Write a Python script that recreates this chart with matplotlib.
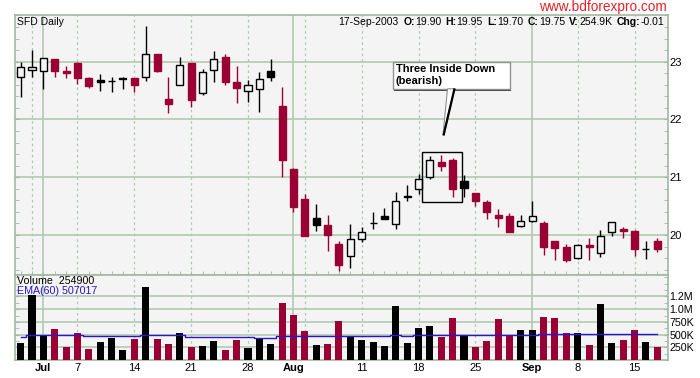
import numpy as np
import pandas as pd
import matplotlib
matplotlib.use('Agg')
import matplotlib.pyplot as plt
from matplotlib.patches import Rectangle, Polygon
from matplotlib.ticker import FixedLocator, MultipleLocator

plt.rcParams['font.family'] = ['Liberation Sans', 'DejaVu Sans']

# trading days (market closed Jul 4 and Sep 1)
dates = pd.bdate_range('2003-06-27', '2003-09-17')
dates = dates[~dates.isin(pd.to_datetime(['2003-07-04', '2003-09-01']))]

opens = [22.73, 22.86, 22.83, 23.05, 22.83, 22.98, 22.72, 22.68, 22.66, 22.72,
         22.72, 22.73, 23.13, 22.35, 22.59, 22.98, 22.45, 22.85, 23.08, 22.65,
         22.50, 22.52, 22.84, 22.23, 21.14, 20.62, 20.29, 20.17, 19.84, 19.64,
         19.93, 20.21, 20.33, 20.19, 20.65, 20.79, 21.00, 21.26, 21.30, 20.93,
         20.73, 20.57, 20.35, 20.33, 20.15, 20.25, 20.21, 19.90, 19.79, 19.61,
         19.83, 19.68, 20.05, 20.10, 20.07, 19.76, 19.90]
highs = [22.99, 23.20, 23.06, 23.05, 22.93, 22.99, 22.73, 22.79, 22.74, 22.73,
         22.72, 23.61, 23.13, 22.73, 23.08, 22.98, 22.87, 23.18, 23.13, 22.93,
         22.68, 22.82, 23.05, 22.56, 21.16, 20.71, 20.54, 20.35, 19.90, 20.19,
         20.13, 20.39, 20.46, 20.74, 20.86, 21.05, 21.36, 21.38, 21.33, 21.04,
         20.73, 20.60, 20.45, 20.38, 20.35, 20.59, 20.24, 19.90, 19.84, 19.84,
         19.95, 20.09, 20.22, 20.13, 20.09, 19.90, 19.95]
lows = [22.38, 22.74, 22.53, 22.73, 22.72, 22.61, 22.54, 22.50, 22.48, 22.53,
        22.48, 22.67, 22.82, 22.12, 22.59, 22.22, 22.42, 22.64, 22.59, 22.29,
        22.31, 22.13, 22.67, 21.00, 20.40, 19.98, 20.07, 19.73, 19.38, 19.43,
        19.88, 20.10, 20.28, 20.11, 20.58, 20.71, 20.97, 21.10, 20.66, 20.66,
        20.51, 20.28, 20.13, 20.06, 20.13, 20.23, 19.65, 19.57, 19.54, 19.58,
        19.56, 19.62, 19.99, 19.95, 19.64, 19.59, 19.70]
closes = [22.90, 22.91, 23.06, 22.84, 22.80, 22.71, 22.58, 22.65, 22.66, 22.70,
          22.60, 23.13, 22.84, 22.27, 22.94, 22.34, 22.82, 23.05, 22.64, 22.55,
          22.59, 22.70, 22.74, 21.29, 20.49, 19.98, 20.18, 20.00, 19.48, 19.93,
          20.06, 20.20, 20.28, 20.58, 20.68, 20.97, 21.29, 21.20, 20.80, 20.82,
          20.58, 20.40, 20.30, 20.06, 20.24, 20.33, 19.79, 19.78, 19.56, 19.82,
          19.80, 19.99, 20.22, 20.07, 19.75, 19.76, 19.75]
volume = [341000, 1280000, 490000, 610000, 256000, 540000, 216000, 360000, 433000, 197000,
          413000, 1437000, 413000, 315000, 531000, 256000, 276000, 374000, 197000, 394000,
          236000, 413000, 315000, 1120000, 886000, 571000, 295000, 315000, 768000, 460000,
          394000, 360000, 276000, 1070000, 341000, 630000, 670000, 453000, 827000, 486000,
          256000, 374000, 807000, 486000, 590000, 590000, 846000, 827000, 540000, 540000,
          295000, 1108000, 341000, 394000, 590000, 360000, 254900]
ema60 = [453000, 486000, 486000, 488000, 484000, 485000, 470000, 468000, 467000, 466000,
         466000, 488000, 486000, 484000, 485000, 462000, 460000, 459000, 458000, 457000,
         456000, 440000, 438000, 465000, 468000, 470000, 467000, 466000, 466000, 466000,
         465000, 464000, 463000, 484000, 478000, 485000, 487000, 487000, 489000, 489000,
         486000, 485000, 490000, 490000, 492000, 500000, 502000, 518000, 519000, 520000,
         510000, 515000, 513000, 511000, 512000, 509000, 507017]

tick_dates = ['2003-07-01', '2003-07-07', '2003-07-14', '2003-07-21', '2003-07-28',
              '2003-08-01', '2003-08-11', '2003-08-18', '2003-08-25',
              '2003-09-02', '2003-09-08', '2003-09-15']
tick_labels = ['Jul', '7', '14', '21', '28', 'Aug', '11', '18', '25', 'Sep', '8', '15']
month_lines = ['2003-07-01', '2003-08-01', '2003-09-02']
week_lines = ['2003-06-30', '2003-07-07', '2003-07-14', '2003-07-21', '2003-07-28',
              '2003-08-04', '2003-08-11', '2003-08-18', '2003-08-25',
              '2003-09-08', '2003-09-15']
pattern_days = ['2003-08-19', '2003-08-20', '2003-08-21']

vol_ticks = [250000, 500000, 750000, 1000000, 1250000]
vol_tick_labels = ['250K', '500K', '750K', '1.0M', '1.2M']

MAROON = '#990033'
BG = '#f4f4f4'
GRID = '#b2c8b2'
FRAME = '#a2b8a2'
W, H = 700, 378

def pos(d):
    return dates.get_loc(pd.Timestamp(d))

n = len(dates)
x = np.arange(n)
colors = ['black' if i == 0 or closes[i] >= closes[i - 1] else MAROON for i in range(n)]

fig = plt.figure(figsize=(W / 100, H / 100), dpi=100)
left, right, top, mid, bot = 15.5, 668.3, 15, 274.5, 360
ax = fig.add_axes([left / W, 1 - mid / H, (right - left) / W, (mid - top) / H])
ax2 = fig.add_axes([left / W, 1 - bot / H, (right - left) / W, (bot - mid) / H])

for a in (ax, ax2):
    a.set_facecolor(BG)
    a.set_xlim(-0.45, 56.97)
    for s in a.spines.values():
        s.set_color(FRAME)
        s.set_linewidth(1.2)
    for d in month_lines:
        a.axvline(pos(d), color=GRID, lw=1.2, zorder=1)
    for d in week_lines:
        a.axvline(pos(d), color=GRID, lw=0.9, ls=(0, (2, 2.5)), zorder=1)

# price panel
ax.set_ylim(19.316, 23.808)
for lvl in [20, 21, 22, 23]:
    ax.axhline(lvl, color=GRID, lw=1.2, zorder=1)

for i in range(n):
    o, h, l, c = opens[i], highs[i], lows[i], closes[i]
    col = colors[i]
    ax.vlines(i, l, h, color=col, lw=1.0, zorder=3)
    face = BG if c > o else col
    ax.add_patch(Rectangle((i - 0.31, min(o, c)), 0.62, max(abs(c - o), 0.004),
                           facecolor=face, edgecolor=col, lw=1.0, zorder=4))

ax.yaxis.set_major_locator(FixedLocator([20, 21, 22, 23]))
ax.yaxis.set_minor_locator(MultipleLocator(0.2))
ax.tick_params(axis='y', which='both', left=True, right=True, direction='in',
               labelleft=False, labelright=True, colors=FRAME, labelcolor='black',
               labelsize=8, pad=1)
ax.tick_params(axis='y', which='minor', length=3)
ax.tick_params(axis='y', which='major', length=3)
ax.set_xticks([])
ax.set_xticks(x, minor=True)
ax.tick_params(axis='x', which='minor', bottom=True, direction='in', length=3, colors=FRAME)

# three inside down pattern box
pi = [pos(d) for d in pattern_days]
ax.add_patch(Rectangle((pi[0] - 0.66, min(lows[p] for p in pi) - 0.09),
                       pi[-1] - pi[0] + 1.47,
                       max(highs[p] for p in pi) - min(lows[p] for p in pi) + 0.14,
                       fill=False, edgecolor='black', lw=1.0, zorder=5))

# callout
ax.add_patch(Rectangle((32.85, 22.50), 10.3, 0.48, facecolor='#404040', edgecolor='none', zorder=6))
ax.add_patch(Rectangle((32.73, 22.52), 10.3, 0.48, facecolor='white', edgecolor='#909090', lw=1.0, zorder=7))
ax.add_patch(Polygon([(37.55, 22.53), (38.15, 22.53), (37.15, 21.73)], closed=True,
                     facecolor='white', edgecolor='#909090', lw=0.8, zorder=8))
ax.plot([38.15, 37.22], [22.52, 21.74], color='black', lw=1.6, zorder=9)
ax.text(32.98, 22.77, 'Three Inside Down\n(bearish)', fontsize=8, fontweight='bold',
        ha='left', va='center', zorder=10, linespacing=1.2)

# volume panel
ax2.set_ylim(0, 1683000)
for v in vol_ticks:
    ax2.axhline(v, color=GRID, lw=1.2, zorder=1)
ax2.bar(x, volume, width=0.62, color=colors, zorder=3)
ax2.step(x, ema60, where='mid', color='#2a14d0', lw=1.0, zorder=4)
ax2.yaxis.set_major_locator(FixedLocator(vol_ticks))
ax2.set_yticklabels(vol_tick_labels)
ax2.yaxis.set_minor_locator(MultipleLocator(125000))
ax2.tick_params(axis='y', which='both', left=True, right=True, direction='in',
                labelleft=False, labelright=True, colors=FRAME, labelcolor='black',
                labelsize=7.7, pad=1, length=3)
ax2.set_xticks([pos(d) for d in tick_dates])
ax2.set_xticklabels(tick_labels, fontsize=8)
for lab in ax2.get_xticklabels():
    if lab.get_text().isalpha():
        lab.set_fontweight('bold')
ax2.tick_params(axis='x', length=0, pad=2)

def fx(px):
    return px / W

def fy(py):
    return 1 - py / H

# texts
fig.text(fx(17), fy(24.7), 'SFD Daily', fontsize=7.5, va='baseline')
fig.text(fx(667), fy(11.5), 'www.bdforexpro.com', fontsize=9.8, color='#e8202a',
         ha='right', va='baseline')
fig.text(fx(17), fy(284.5), f'Volume  {volume[-1]}', fontsize=7.7, va='baseline')
fig.text(fx(17), fy(294.5), f'EMA(60) {ema60[-1]}', fontsize=7.7, va='baseline', color='#2a14d0')

groups = [('', dates[-1].strftime('%d-%b-%Y')),
          ('O:', f'{opens[-1]:.2f}'), ('H:', f'{highs[-1]:.2f}'),
          ('L:', f'{lows[-1]:.2f}'), ('C:', f'{closes[-1]:.2f}'),
          ('V:', f'{volume[-1] / 1000:.1f}K'),
          ('Chg:', f'{closes[-1] - closes[-2]:.2f}')]
renderer = fig.canvas.get_renderer()
xr = 664
for lab, val in reversed(groups):
    t = fig.text(fx(xr), fy(24.7), val, fontsize=7.5, ha='right', va='baseline')
    xr -= t.get_window_extent(renderer).width
    if lab:
        t = fig.text(fx(xr), fy(24.7), lab, fontsize=7.5, fontweight='bold', ha='right', va='baseline')
        xr -= t.get_window_extent(renderer).width
    xr -= 4.5

fig.savefig('out.png', dpi=100)
